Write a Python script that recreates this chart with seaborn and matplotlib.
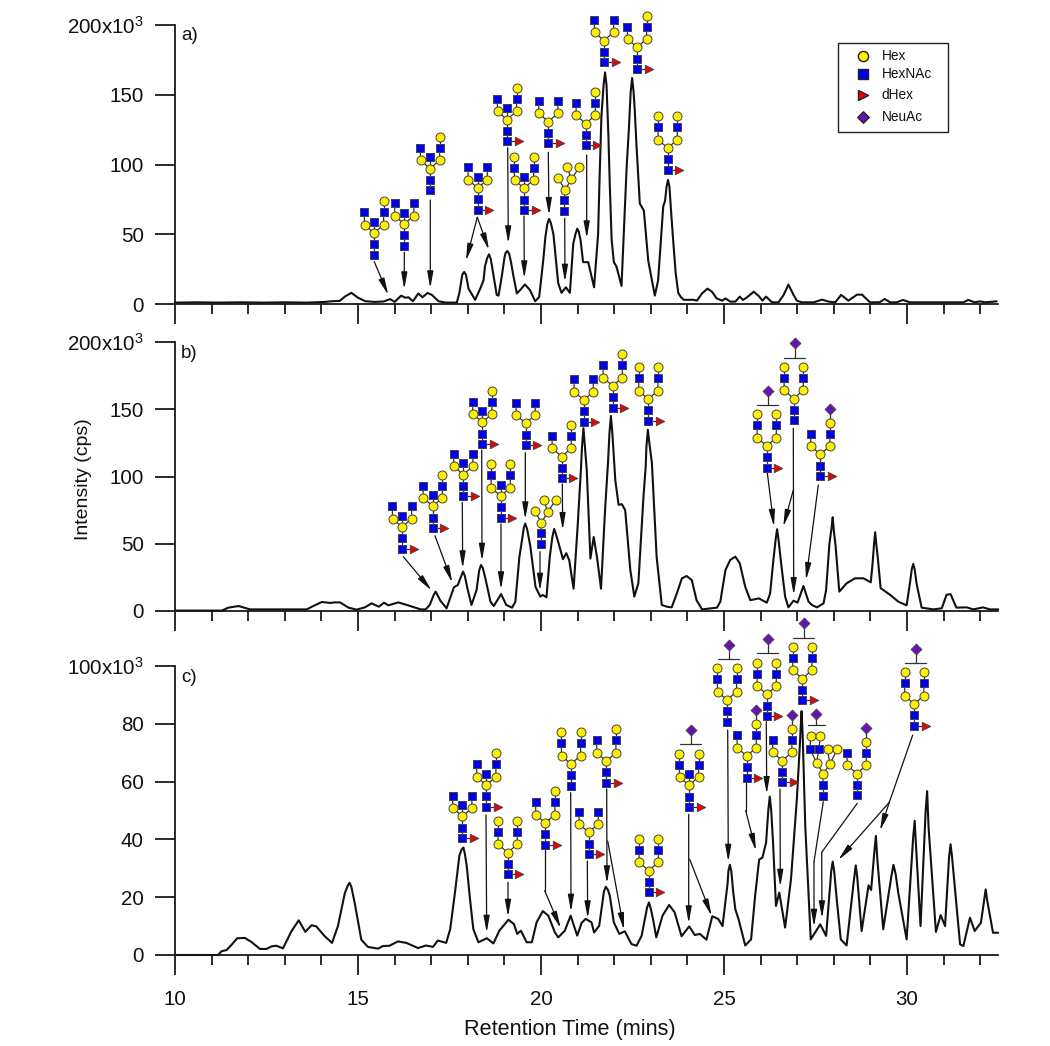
import matplotlib
matplotlib.use('Agg')
import matplotlib.pyplot as plt
import seaborn as sns
from matplotlib.patches import Rectangle

# traces (time in mins, intensity in 10^3 cps)
time_a = [10, 10.6, 11.2, 11.8, 12.4, 13, 13.6, 14.1, 14.3, 14.5, 14.65, 14.82, 15, 15.2, 15.45, 15.7, 15.88, 16,
          16.18, 16.29, 16.38, 16.5, 16.65, 16.76, 16.9, 17.02, 17.2, 17.4, 17.7, 17.77, 17.9, 18.02, 18.2, 18.34,
          18.43, 18.47, 18.58, 18.68, 18.79, 18.84, 19.08, 19.25, 19.34, 19.43, 19.56, 19.7, 19.84, 19.95, 20.06,
          20.22, 20.34, 20.47, 20.56, 20.68, 20.79, 20.88, 20.99, 21.08, 21.15, 21.29, 21.38, 21.45, 21.56, 21.65,
          21.75, 21.84, 21.93, 21.99, 22.06, 22.2, 22.34, 22.49, 22.61, 22.7, 22.81, 22.93, 23.11, 23.2, 23.34,
          23.47, 23.61, 23.75, 23.9, 24.17, 24.26, 24.4, 24.55, 24.67, 24.8, 24.95, 25.04, 25.17, 25.31, 25.43,
          25.52, 25.63, 25.81, 25.95, 26.05, 26.15, 26.31, 26.49, 26.63, 26.76, 26.9, 26.99, 27.13, 27.45, 27.68,
          27.86, 28.04, 28.2, 28.4, 28.63, 28.77, 28.99, 29.25, 29.39, 29.54, 29.72, 29.89, 30.08, 31.54, 31.67,
          31.85, 31.99, 32.13, 32.45]
intensity_a = [1, 1.2, 1, 1.2, 1, 1.2, 1, 1.5, 2, 2.2, 5.5, 8, 4.5, 2, 1.5, 1.8, 3.5, 1.5,
               6, 4.5, 4.8, 2, 7.6, 4.8, 7.9, 6.5, 2, 1, 1, 8, 23, 11, 3, 11,
               17, 27, 35.6, 24, 6.5, 6, 38, 19.6, 7.6, 10, 14, 10, 2, 5, 31,
               61, 50, 15, 8, 12, 8, 43, 54, 46, 30, 30, 20, 12, 50, 134,
               166, 122, 46, 30, 27, 13, 98, 162, 113, 72, 67, 31, 6, 17, 70,
               89, 46, 8, 3, 3, 2.4, 7.6, 11, 8.8, 4, 2.4, 4, 1.7, 1.7, 5.3,
               2.9, 4.8, 8.8, 5.7, 2.4, 5.3, 1.2, 1.2, 6.5, 13.9, 6.5, 2.4, 1.2, 1.2, 3.1,
               1.7, 1.2, 6.5, 2.4, 6.7, 6.7, 1.2, 1.2, 3.6, 1.2, 1.2, 2.9, 1.2, 1.2, 2.9,
               1.2, 1.9, 1.2, 1.9]
# extra readings around the peak tops
top_time_a = [17.85, 17.95, 18.53, 18.63, 18.93, 19.0, 19.03, 19.13, 19.18, 20.12, 20.17, 20.27, 20.94, 21.03,
              21.6, 21.71, 21.79, 21.88, 22.4, 22.45, 22.53, 22.56, 23.26, 23.39, 23.43, 23.51, 23.55, 23.68, 23.82]
top_intensity_a = [21, 21, 33, 32, 20, 33, 36.5, 36, 30, 48, 57, 58, 50, 52,
                   90, 157, 157, 85, 125, 152, 152, 140, 40, 74, 84, 84, 68, 22, 5]

time_b = [10, 11.28, 11.46, 11.74, 12.05, 12.6, 13.6, 13.78, 14.01, 14.24, 14.37, 14.51, 14.74, 14.96, 15.19, 15.37,
          15.57, 15.71, 15.83, 16.1, 16.37, 16.71, 16.85, 16.96, 17.12, 17.25, 17.42, 17.53, 17.62, 17.73, 17.87,
          17.98, 18.1, 18.24, 18.36, 18.48, 18.62, 18.71, 18.91, 19.05, 19.21, 19.3, 19.41, 19.57, 19.71, 19.85,
          19.98, 20.05, 20.15, 20.24, 20.36, 20.48, 20.6, 20.69, 20.77, 20.89, 21.0, 21.09, 21.16, 21.25, 21.35,
          21.44, 21.53, 21.64, 21.75, 21.91, 22.03, 22.12, 22.21, 22.3, 22.44, 22.55, 22.66, 22.8, 22.92, 23.03,
          23.16, 23.3, 23.44, 23.57, 23.71, 23.85, 23.98, 24.12, 24.25, 24.4, 24.81, 24.9, 25.04, 25.17, 25.31,
          25.43, 25.58, 25.72, 25.95, 26.17, 26.26, 26.35, 26.45, 26.55, 26.67, 26.76, 26.9, 27.01, 27.17, 27.31,
          27.4, 27.54, 27.72, 27.79, 27.88, 27.97, 28.05, 28.15, 28.35, 28.58, 28.81, 29.01, 29.06, 29.13, 29.2,
          29.28, 29.54, 29.76, 29.99, 30.08, 30.17, 30.26, 30.4, 30.72, 30.95, 31.08, 31.19, 31.35, 31.63, 31.81,
          32.08, 32.26, 32.49]
intensity_b = [0.3, 0.3, 2.5, 3.7, 1.2, 1.2, 1.2, 3.7, 6.7, 6, 6.4, 6.4, 2.5, 1, 2.7, 5.7,
               3.2, 6.2, 4.2, 6.4, 4.2, 1.2, 1.2, 4.5, 14.4, 7.7, 2, 10.7, 17.6, 19.4, 29.3,
               18, 4.5, 15.6, 34.2, 24.3, 6.9, 3.7, 12.6, 4.5, 2.5, 6.9, 40.4, 65, 47.9, 18,
               10.7, 11.9, 10.2, 40.4, 61, 50.4, 38.5, 43, 37.9, 16.6, 62.5, 104.9, 135.9, 104.9, 39,
               55, 40, 16.6, 75, 145, 97.3, 79, 79.4, 75, 30.5, 10.7, 20.6, 85, 134.7, 110,
               40, 4.5, 3.2, 2.7, 13, 24.3, 26, 23, 8, 1.2, 2.5, 7, 30.5, 38, 40.4,
               35.5, 18, 8, 9.4, 6.2, 13, 38, 60.8, 38, 10.7, 2.7, 7.7, 6.2, 18.6, 7,
               4.5, 2.7, 5.7, 15.6, 50, 69.7, 48, 14.4, 20.6, 24.3, 24.3, 21.3, 35.5, 58.5, 40,
               17, 12, 7, 4.2, 20.6, 35, 20.6, 2.5, 1.2, 2, 12, 12.6, 2.5, 2.7, 1.2,
               2.7, 1.2, 1.2]
top_time_b = [17.07, 17.17, 17.82, 17.92, 18.31, 18.41, 19.5, 19.53, 19.62, 19.66, 20.31, 20.41, 21.12, 21.2,
              21.83, 21.87, 21.95, 22.86, 22.88, 22.96, 26.41, 26.49, 27.94, 28.0, 29.1, 29.16, 30.13, 30.21]
top_intensity_b = [12, 12, 26, 26, 30, 32, 56, 62, 61, 55, 55, 57, 122, 122,
                   110, 132, 132, 107, 122, 125, 53, 53, 62, 60, 50, 50, 31, 31]

time_c = [10, 11.18, 11.27, 11.41, 11.55, 11.7, 11.91, 12.09, 12.32, 12.5, 12.64, 12.77, 12.95, 13.18, 13.38, 13.56,
          13.73, 13.86, 14.09, 14.29, 14.45, 14.64, 14.77, 14.91, 15.09, 15.27, 15.55, 15.68, 15.86, 16.09, 16.32,
          16.64, 16.86, 17.05, 17.18, 17.41, 17.52, 17.65, 17.77, 17.88, 17.97, 18.06, 18.15, 18.29, 18.52, 18.7,
          18.86, 19.11, 19.26, 19.35, 19.45, 19.61, 19.75, 19.88, 20.05, 20.2, 20.38, 20.47, 20.65, 20.81, 20.99,
          21.11, 21.22, 21.38, 21.45, 21.59, 21.77, 21.88, 21.99, 22.14, 22.29, 22.47, 22.61, 22.75, 22.95, 23.06,
          23.15, 23.32, 23.5, 23.65, 23.84, 24.05, 24.2, 24.34, 24.52, 24.68, 24.84, 24.96, 25.16, 25.31, 25.4,
          25.58, 25.74, 25.85, 25.96, 26.05, 26.15, 26.25, 26.34, 26.42, 26.51, 26.67, 26.83, 26.99, 27.12, 27.22,
          27.37, 27.63, 27.79, 27.97, 28.08, 28.19, 28.35, 28.6, 28.76, 28.95, 29.02, 29.15, 29.35, 29.63, 29.76,
          29.99, 30.21, 30.37, 30.55, 30.79, 30.92, 31.04, 31.19, 31.45, 31.54, 31.72, 31.85, 32.02, 32.15, 32.35,
          32.49]
intensity_c = [0, 0, 1.3, 1.7, 3.6, 5.8, 5.9, 4.5, 2.1, 2.1, 3, 3.2, 2.3, 8.2, 12, 8,
               10.3, 9.9, 6.5, 4.2, 9.9, 21.4, 25, 18, 5.3, 2.8, 2.2, 3.1, 3.2, 4.7, 4.2,
               2.4, 3.3, 2.8, 5, 4.2, 9, 21.7, 34.4, 37.2, 30.9, 19.4, 9, 4.4, 5.8, 4,
               8.4, 12.2, 10.7, 7.3, 8.4, 4.4, 4.4, 11.3, 15.2, 13.6, 7.8, 6.1, 8.4, 13.6, 6.7,
               11.1, 12.5, 11.3, 7.8, 10.1, 23.6, 20.5, 11.3, 7.3, 8.2, 3.8, 3.2, 6.7, 18.2, 12.5,
               6.1, 13.6, 17.3, 14.8, 6.5, 9.9, 6.9, 7.3, 5.3, 13.4, 12.5, 10, 31.2, 15.8, 12.3,
               3.3, 5.4, 20.4, 33, 33.7, 38.9, 54.8, 38.9, 17, 21.6, 9.5, 26.2, 53.8, 84.4, 44.6,
               5.4, 10.6, 6.6, 32.3, 19.3, 5.4, 3.3, 31, 8.3, 24.1, 22.5, 41.2, 8.9, 31.2, 21.6,
               5.4, 46.4, 10, 56.7, 8, 13.8, 10, 38.3, 3.7, 3.1, 12.9, 8.3, 11.2, 22.7, 7.7,
               7.7]
top_time_c = [14.72, 14.82, 17.83, 17.92, 21.72, 21.83, 22.9, 23.0, 25.1, 25.12, 25.2, 25.25, 26.21, 26.29,
              27.07, 27.1, 27.15, 27.18, 27.93, 28.01, 28.55, 28.64, 29.11, 29.19, 29.57, 29.69, 30.17, 30.25,
              30.51, 30.59, 31.15, 31.23, 32.11, 32.19]
top_intensity_c = [24, 23.5, 36.5, 35, 22, 22.5, 16.5, 16, 25, 29, 29, 22, 50, 50,
                   72, 80, 76, 62, 29, 29, 26, 27, 36, 33, 27, 28, 41, 37,
                   50, 44, 34, 34, 19, 19]

panel_names = ['a)', 'b)', 'c)']
y_ticks = [[0, 50, 100, 150, 200], [0, 50, 100, 150, 200], [0, 20, 40, 60, 80, 100]]
y_tops = [200, 200, 100]
legend_names = ['Hex', 'HexNAc', 'dHex', 'NeuAc']

# glycan annotations: root x, root y (figure pixels), left arm, right arm, bisect, fucose, capped with bracket
glycans = [
    (374, 254.7, 1, 2, 1, 0, 0), (404.3, 245.7, 1, 1, 1, 0, 0), (430, 190.3, 1, 2, 1, 0, 0),
    (477.7, 209.7, 1, 1, 1, 1, 0), (507, 141.3, 1, 2, 1, 1, 0), (524, 210, 2, 2, 1, 1, 0),
    (548.3, 143.3, 1, 1, 0, 1, 0), (585.7, 145.3, 1, 2, 0, 1, 0), (604, 62.3, 1, 1, 0, 1, 0),
    (637, 69, 1, 2, 0, 1, 0), (667.7, 169.7, 2, 2, 0, 1, 0),
    (402, 548.7, 1, 1, 1, 1, 0), (432.7, 528, 1, 2, 1, 1, 0), (463.3, 496.3, 1, 1, 1, 1, 0),
    (482.3, 444, 1, 2, 1, 1, 0), (500.7, 517.7, 2, 2, 1, 1, 0), (525.7, 445, 1, 1, 0, 1, 0),
    (561.7, 478.3, 1, 2, 0, 1, 0), (583.7, 421.7, 1, 1, 0, 1, 0), (612.7, 407.7, 1, 2, 0, 1, 0),
    (648.3, 420.7, 2, 2, 0, 1, 0), (766.7, 467.7, 2, 2, 0, 1, 1), (793.7, 420.3, 2, 2, 0, 0, 1),
    (820.3, 476, 1, 3, 0, 1, 0),
    (462.3, 838, 1, 1, 1, 1, 0), (486.3, 806.7, 1, 2, 1, 1, 0), (507.7, 874.3, 2, 2, 0, 1, 0),
    (545.3, 844.7, 1, 2, 0, 1, 0), (571, 785.7, 2, 2, 0, 0, 0), (588.7, 854, 1, 1, 0, 1, 0),
    (606.3, 782.7, 1, 2, 0, 1, 0), (648.7, 892.3, 2, 2, 0, 1, 0), (689, 807, 2, 2, 1, 1, 1),
    (727, 721.7, 2, 2, 0, 0, 1), (766.7, 716, 2, 2, 0, 1, 1), (802.3, 700.3, 2, 2, 0, 1, 1),
    (746.7, 777.7, 1, 3, 0, 1, 0), (782.3, 782.3, 1, 3, 0, 1, 0), (856.7, 795.3, 1, 3, 0, 0, 0),
    (914.3, 725.7, 2, 2, 0, 1, 1),
]
hybrid_roots = [(564.3, 211.3), (540.7, 544)]
tri_root = (822.7, 795.7)

# arrows as chains of figure pixels, the head goes on the last segment
arrows = [
    [(374.3, 261.7), (388.3, 295)], [(404.3, 252.3), (404.3, 289.3)], [(430.3, 200), (430.3, 288.3)],
    [(477.3, 217.3), (466, 260.7)], [(477.3, 217.3), (489, 250)], [(507.7, 147.7), (508.3, 243.3)],
    [(524, 216), (524.3, 278.3)], [(548.3, 152.3), (549, 215)], [(564.7, 218.3), (565, 281.7)],
    [(586.7, 155), (586.7, 238.3)],
    [(403.3, 556.7), (431.7, 590.7)], [(435, 535.7), (452.3, 582.7)], [(462.3, 502.3), (462.7, 568.3)],
    [(481.7, 450), (482, 560.7)], [(501, 524), (501, 589.3)], [(525.3, 452.7), (525.3, 519.3)],
    [(540, 551.7), (540, 590.7)], [(562.3, 484), (562.7, 530)], [(767.3, 472.7), (774, 526.7)],
    [(793.3, 428.3), (793.7, 595)], [(793.3, 490), (783.3, 526.7)], [(818.3, 485), (806, 580)],
    [(486, 815), (486.7, 932.7)], [(508, 882.3), (508, 916.7)], [(544.7, 850), (544.7, 890.7), (560.7, 928.3)],
    [(570.7, 792.7), (571, 911.7)], [(587.3, 861), (587.7, 918.3)], [(606.7, 789), (607, 883.3)],
    [(607.7, 841), (624, 930)], [(688.7, 814.3), (688.7, 923.3)], [(689.7, 859.3), (711.7, 916)],
    [(727.7, 730), (728.3, 861.7)], [(766.3, 721.7), (766.7, 794)],
    [(745.7, 782.7), (745.7, 810.7), (756, 850.7)], [(780, 789), (780.3, 886.7)],
    [(823.3, 801.7), (814, 861.7), (814, 926.7)], [(857.3, 803.3), (821.7, 852.3), (822, 918.3)],
    [(912.7, 735), (889.3, 802.3), (880, 830.7)], [(889.3, 802.3), (838.3, 860)],
]

sns.set_style('ticks')
plt.rcParams['font.family'] = ['Liberation Sans', 'DejaVu Sans']
plt.rcParams['mathtext.default'] = 'regular'
W, H = 1050, 1046
fig = plt.figure(figsize=(W / 100, H / 100), dpi=100)

LEFT, RIGHT = 175, 998.5
boxes = [(25, 304), (342, 611), (666, 955)]
traces = [(time_a + top_time_a, intensity_a + top_intensity_a),
          (time_b + top_time_b, intensity_b + top_intensity_b),
          (time_c + top_time_c, intensity_c + top_intensity_c)]
for i, (top, bottom) in enumerate(boxes):
    ax = fig.add_axes([LEFT / W, 1 - bottom / H, (RIGHT - LEFT) / W, (bottom - top) / H])
    # lineplot sorts by time, so the extra readings fall into place
    sns.lineplot(x=traces[i][0], y=traces[i][1], ax=ax, color='#111111', linewidth=1.5,
                 estimator=None, clip_on=False)
    ax.set_xlim(10, 32.5)
    ax.set_ylim(0, y_tops[i])
    ax.set_xticks(range(10, 33, 5))
    ax.set_xticks(range(10, 33), minor=True)
    ax.set_yticks(y_ticks[i])
    labels = [str(v) for v in y_ticks[i]]
    labels[-1] = labels[-1] + 'x10$^3$'
    ax.set_yticklabels(labels)
    ax.tick_params(axis='y', length=14.4, width=1.25, pad=8, labelsize=14.8, color='#111111', labelcolor='#111111')
    ax.tick_params(axis='x', which='major', length=14.4, width=1.25, pad=11, labelsize=14.8,
                   labelbottom=(i == 2), color='#111111', labelcolor='#111111')
    ax.tick_params(axis='x', which='minor', length=7.2, width=1.25, color='#111111')
    sns.despine(ax=ax)
    for side in ['left', 'bottom']:
        ax.spines[side].set_linewidth(1.25)
        ax.spines[side].set_color('#111111')
    ax.patch.set_alpha(0)

# overlay in figure pixels for the annotations
over = fig.add_axes([0, 0, 1, 1], zorder=5)
over.set_xlim(0, W)
over.set_ylim(H, 0)
over.axis('off')

over.text(84, 479, 'Intensity (cps)', rotation=90, ha='center', va='center', fontsize=14, color='#111111')
over.text(570, 1030, 'Retention Time (mins)', ha='center', va='center', fontsize=15.6, color='#111111')
for name, y in zip(panel_names, [36, 353, 677]):
    over.text(181, y, name, ha='left', va='center', fontsize=13.5, color='#111111')

COLORS = {'H': '#FFF000', 'N': '#0000EE', 'D': '#EE0000', 'S': '#6A10B8'}
MARKS = {'H': 'o', 'N': 's', 'D': '>', 'S': 'D'}
SIZES = {'H': 42, 'N': 32, 'D': 36, 'S': 30}
KEY_SIZES = {'H': 54, 'N': 44, 'D': 52, 'S': 34}
ARM = [(0, -42.5), (0, -53.5), (0, -67.5)]


def draw_nodes(nodes, edges):
    for a, b in edges:
        over.plot([a[0], b[0]], [a[1], b[1]], color='#333333', lw=0.9, zorder=6)
    for kind in 'HNDS':
        pts = [n for n in nodes if n[2] == kind]
        if pts:
            over.scatter([p[0] for p in pts], [p[1] for p in pts], s=SIZES[kind], marker=MARKS[kind],
                         c=COLORS[kind], edgecolors='#444444', linewidths=0.7, zorder=7)


def bracket(cx, y_bar, dia_x, dia_y, half=10.5):
    over.plot([cx - half, cx + half], [y_bar, y_bar], color='#333333', lw=0.9, zorder=6)
    over.plot([dia_x, dia_x], [y_bar, dia_y], color='#333333', lw=0.9, zorder=6)
    over.scatter([dia_x], [dia_y], s=SIZES['S'], marker='D', c=COLORS['S'], edgecolors='#444444',
                 linewidths=0.7, zorder=7)


def glycan(x, y, left, right, bis, fuc, cap):
    root = (x, y, 'N')
    n2 = (x, y - 10.5, 'N')
    core = (x, y - 21.7, 'H')
    lm = (x - 9.5, y - 30, 'H')
    rm = (x + 9.5, y - 30, 'H')
    nodes = [root, n2, core, lm, rm]
    edges = [(root, n2), (n2, core), (core, lm), (core, rm)]
    for side, start, level in ((-1, lm, left), (1, rm, right)):
        prev = start
        for k in range(level):
            kind = 'NHS'[k]
            node = (x + side * 9.7, y + ARM[k][1], kind)
            nodes.append(node)
            edges.append((prev, node))
            prev = node
    if bis:
        node = (x, y - 33, 'N')
        nodes.append(node)
        edges.append((core, node))
    if fuc:
        node = (x + 11.5, y, 'D')
        nodes.append(node)
        edges.append((root, node))
    draw_nodes(nodes, edges)
    if cap:
        bracket(x + 1, y - 62.7, x + 1.7, y - 77)


def hybrid(x, y):
    root, n2, core = (x, y, 'N'), (x, y - 11, 'N'), (x + 0.7, y - 21.3, 'H')
    lm, rm = (x - 6, y - 33, 'H'), (x + 7, y - 32, 'H')
    t1, t2 = (x + 3, y - 44, 'H'), (x + 15, y - 44, 'H')
    draw_nodes([root, n2, core, lm, rm, t1, t2],
               [(root, n2), (n2, core), (core, lm), (core, rm), (rm, t1), (rm, t2)])


def tri(x, y):
    root, n2, core = (x, y, 'N'), (x, y - 10.7, 'N'), (x + 0.7, y - 21.7, 'H')
    lm, rm = (x - 6, y - 33, 'H'), (x + 7, y - 31.7, 'H')
    n_a, n_b = (x - 12.7, y - 46.3, 'N'), (x - 4, y - 46.3, 'N')
    h_a, h_b = (x - 12, y - 59.7, 'H'), (x - 2.3, y - 59.7, 'H')
    h_c, h_d = (x + 5, y - 46.3, 'H'), (x + 14.7, y - 46.3, 'H')
    draw_nodes([root, n2, core, lm, rm, n_a, n_b, h_a, h_b, h_c, h_d],
               [(root, n2), (n2, core), (core, lm), (core, rm), (lm, n_a), (lm, n_b),
                (n_a, h_a), (n_b, h_b), (rm, h_c), (rm, h_d)])
    bracket(x - 6, y - 71, x - 7, y - 82, half=8.5)


for g in glycans:
    glycan(*g)
for r in hybrid_roots:
    hybrid(*r)
tri(*tri_root)

for chain in arrows:
    for a, b in zip(chain[:-2], chain[1:-1]):
        over.plot([a[0], b[0]], [a[1], b[1]], color='#111111', lw=0.9, zorder=4)
    over.annotate('', xy=chain[-1], xytext=chain[-2], zorder=4,
                  arrowprops=dict(arrowstyle='-|>,head_length=1.0,head_width=0.18', mutation_scale=10,
                                  color='#111111', lw=0.9, shrinkA=0, shrinkB=0))

# legend box
over.add_patch(Rectangle((838.3, 43.3), 109.7, 89, fill=False, edgecolor='#222222', lw=1.0))
for name, kind, y in zip(legend_names, 'HNDS', [55.7, 74.3, 95, 116.7]):
    over.scatter([863.3], [y], s=KEY_SIZES[kind], marker=MARKS[kind], c=COLORS[kind],
                 edgecolors='#222222', linewidths=1.0)
    over.text(881.7, y, name, ha='left', va='center', fontsize=9.8, color='#111111')

plt.savefig('out.png', dpi=100)
